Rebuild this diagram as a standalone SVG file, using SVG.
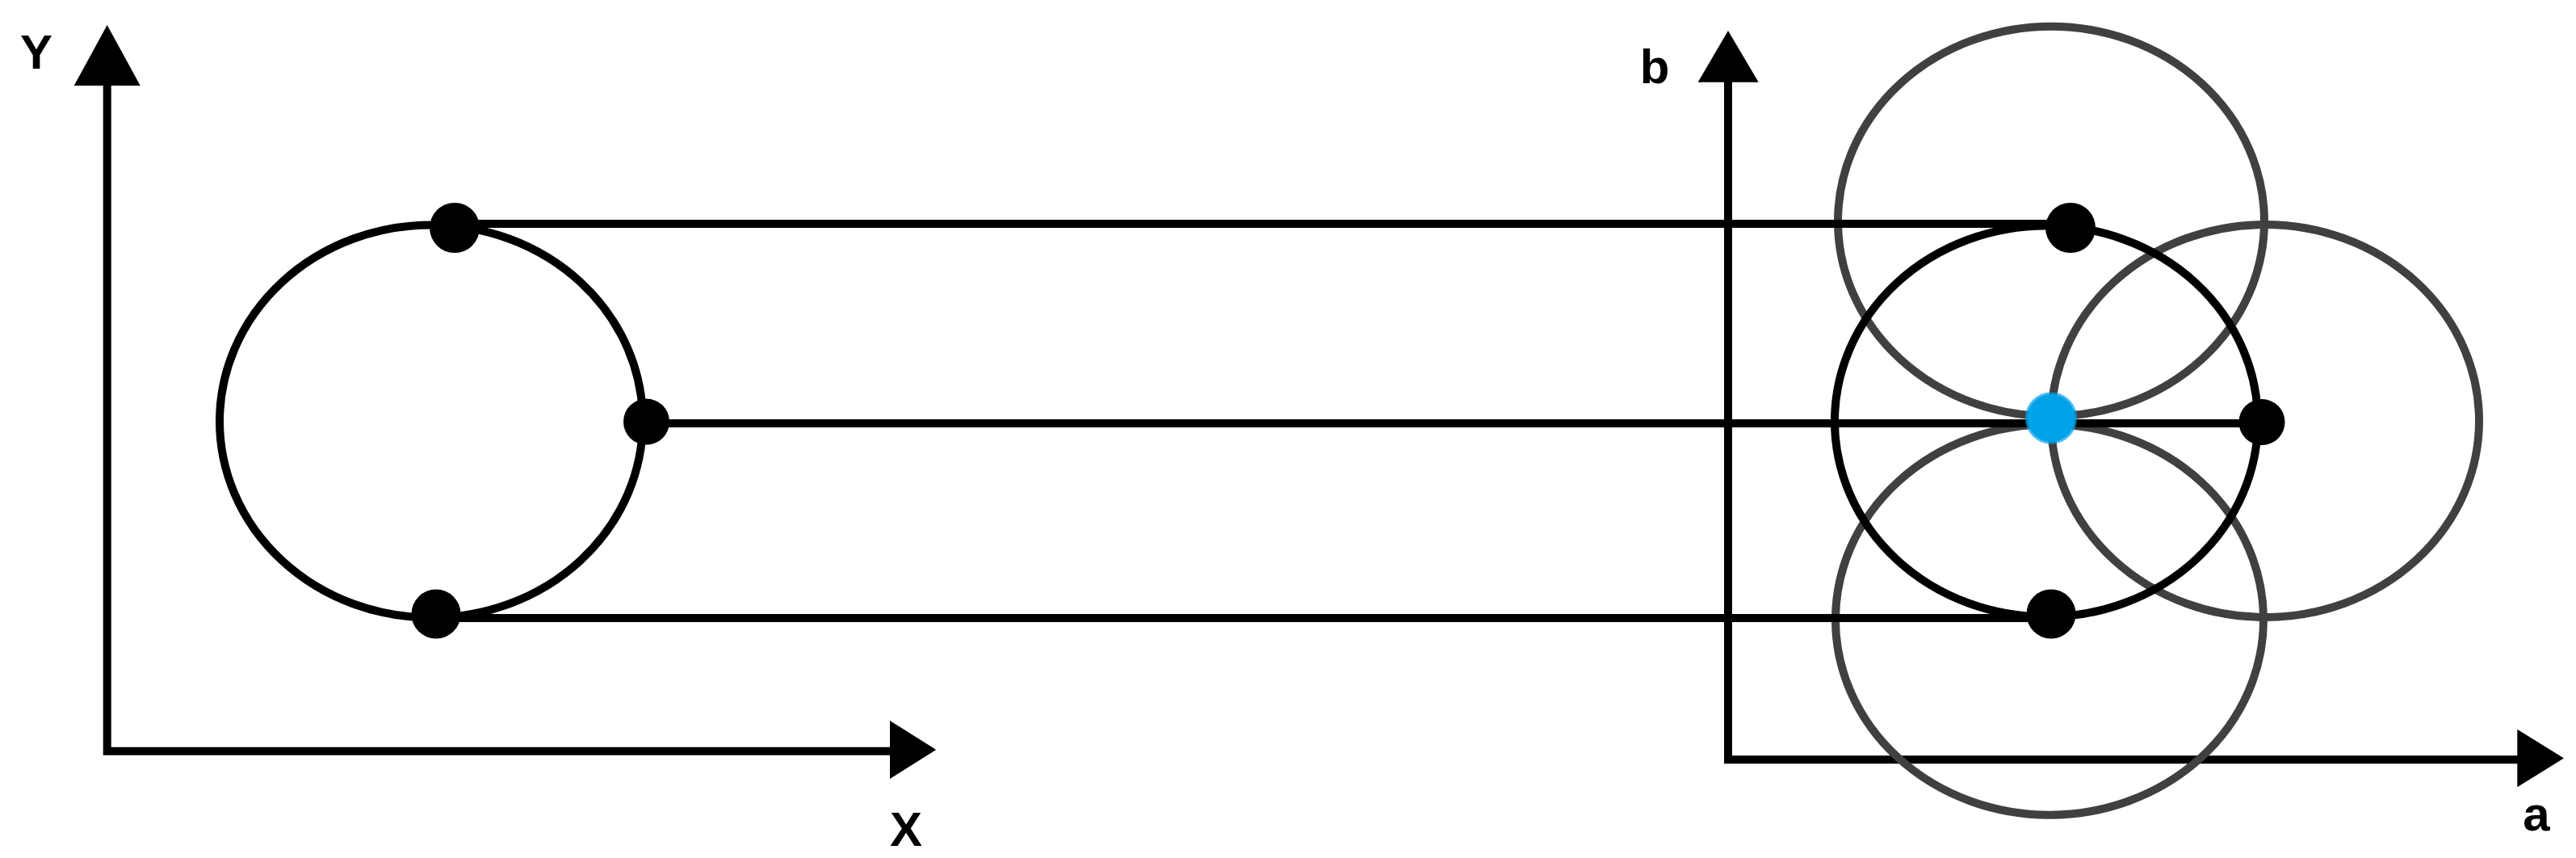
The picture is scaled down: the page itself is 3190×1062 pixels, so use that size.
<svg xmlns="http://www.w3.org/2000/svg" width="3190" height="1062" viewBox="0 0 3190 1062">
<style>
.ax{fill:none;stroke:#000;stroke-width:10;stroke-linejoin:miter;stroke-linecap:butt}
.head{fill:#000}
.ell{fill:none;stroke:#000;stroke-width:10}
.gray{fill:none;stroke:#404040;stroke-width:10}
.dot{fill:#000}
.blue{fill:#00A2E8;stroke:#00A2E8;stroke-opacity:0.7;stroke-width:5}
.lbl{font-family:"Liberation Sans",Arial,sans-serif;font-weight:bold;font-size:60px;fill:#000;text-anchor:middle}
.con{fill:none;stroke:#000;stroke-width:10}
</style>
<rect width="3190" height="1062" fill="#fff"/>
<g id="axes-xy">
<polyline class="ax" points="132.7,104 132.7,929.7 1104,929.7"/>
<polygon class="head" points="132.7,31 91.7,106 173.7,106"/>
<polygon class="head" points="1102,892 1159.3,928 1102,964"/>
<text class="lbl" x="45" y="85">Y</text>
<text class="lbl" x="1122" y="1047">X</text>
</g>
<g id="axes-ab">
<polyline class="ax" points="2140,100 2140,940.3 3119,940.3"/>
<polygon class="head" points="2140,38 2102.7,101.7 2177.7,101.7"/>
<polygon class="head" points="3117.3,902.7 3175,938.5 3117.3,974.3"/>
<text class="lbl" x="2049" y="102.7">b</text>
<text class="lbl" x="3141" y="1028">a</text>
</g>
<g id="left-ellipse">
<ellipse class="ell" cx="534" cy="521.5" rx="262" ry="243"/>
</g>
<g id="gray-circles">
<ellipse class="gray" cx="2540" cy="274" rx="264" ry="241.3"/>
<ellipse class="gray" cx="2805" cy="521" rx="265" ry="243"/>
<ellipse class="gray" cx="2538" cy="767" rx="265" ry="241.7"/>
</g>
<g id="right-ellipse">
<ellipse class="ell" cx="2534" cy="521.5" rx="262" ry="242"/>
</g>
<g id="connectors">
<line class="con" x1="563" y1="277" x2="2564" y2="277"/>
<line class="con" x1="800" y1="524" x2="2801" y2="524"/>
<line class="con" x1="540" y1="765" x2="2540" y2="765"/>
</g>
<g id="left-dots">
<circle class="dot" cx="563" cy="282" r="31"/>
<circle class="dot" cx="800.5" cy="522" r="28.5"/>
<circle class="dot" cx="540" cy="760" r="30.5"/>
</g>
<g id="right-dots">
<circle class="dot" cx="2564" cy="282" r="31"/>
<circle class="dot" cx="2801" cy="522.5" r="28.5"/>
<circle class="dot" cx="2540" cy="760" r="30.5"/>
</g>
<g id="blue-dot">
<circle class="blue" cx="2540" cy="517.5" r="29.5"/>
</g>
</svg>
